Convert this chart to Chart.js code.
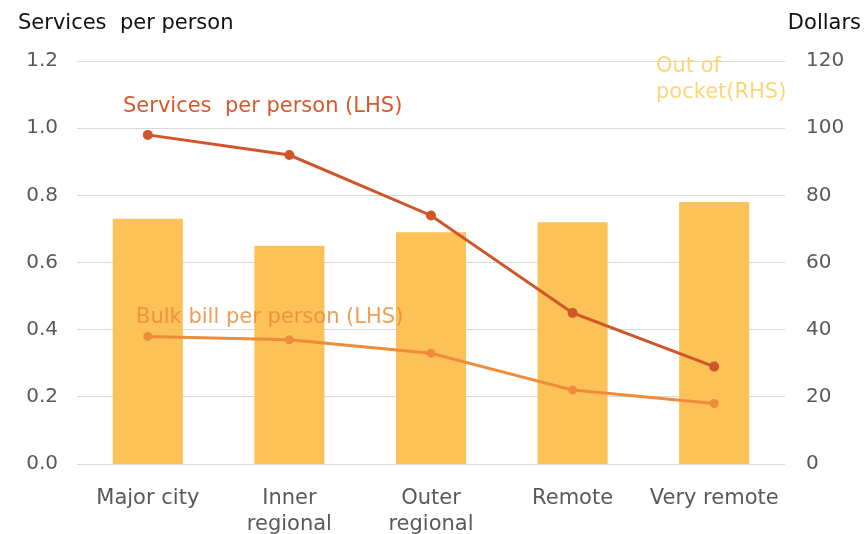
<!DOCTYPE html>
<html>
<head>
<meta charset="utf-8">
<script src="https://cdn.jsdelivr.net/npm/chart.js@4"></script>
<style>
  html, body { margin: 0; padding: 0; background: #fff; }
  #wrap { width: 865px; height: 534px; }
</style>
</head>
<body>
<div id="wrap"><canvas id="chart" width="865" height="534"></canvas></div>
<script>
const categories = [["Major city"], ["Inner", "regional"], ["Outer", "regional"], ["Remote"], ["Very remote"]];
const servicesPerPerson = [0.98, 0.92, 0.74, 0.45, 0.29];
const bulkBillPerPerson = [0.38, 0.37, 0.33, 0.22, 0.18];
const outOfPocket = [73, 65, 69, 72, 78];
const leftTicks = [0, 0.2, 0.4, 0.6, 0.8, 1.0, 1.2];
const rightTicks = [0, 20, 40, 60, 80, 100, 120];

const FONT = "'DejaVu Sans', sans-serif";
const TICK_COLOR = "#595959";

// axis titles and series captions written straight onto the canvas
const captions = {
  id: "captions",
  afterDatasetsDraw(chart) {
    const ctx = chart.ctx;
    ctx.save();
    ctx.textBaseline = "alphabetic";
    ctx.font = `21px ${FONT}`;

    ctx.fillStyle = "#111";
    ctx.textAlign = "left";
    ctx.fillText("Services  per person", 18, 29);
    ctx.textAlign = "right";
    ctx.fillText("Dollars", 861, 29);

    ctx.textAlign = "left";
    ctx.fillStyle = "#d5592c";
    ctx.fillText("Services  per person (LHS)", 123, 112);

    ctx.fillStyle = "rgba(236,140,58,0.85)";
    ctx.fillText("Bulk bill per person (LHS)", 136, 323);

    ctx.fillStyle = "#fdd67a";
    ctx.fillText("Out of", 656, 72);
    ctx.fillText("pocket(RHS)", 656, 98);
    ctx.restore();
  }
};

new Chart(document.getElementById("chart"), {
  data: {
    labels: categories,
    datasets: [
      {
        type: "line",
        label: "Services per person (LHS)",
        data: servicesPerPerson,
        yAxisID: "y",
        borderColor: "#d1552a",
        backgroundColor: "#d1552a",
        borderWidth: 3,
        pointRadius: 3.5,
        pointHoverRadius: 3.5,
        tension: 0,
        order: 0
      },
      {
        type: "line",
        label: "Bulk bill per person (LHS)",
        data: bulkBillPerPerson,
        yAxisID: "y",
        borderColor: "#ef8b3b",
        backgroundColor: "#ef8b3b",
        borderWidth: 3,
        pointRadius: 3,
        pointHoverRadius: 3,
        tension: 0,
        order: 0
      },
      {
        type: "bar",
        label: "Out of pocket(RHS)",
        data: outOfPocket,
        yAxisID: "y1",
        backgroundColor: "#fcc157",
        categoryPercentage: 1,
        barPercentage: 0.495,
        order: 1
      }
    ]
  },
  options: {
    responsive: false,
    animation: false,
    layout: { padding: { top: 61, left: 0, right: 0, bottom: 0 } },
    plugins: {
      legend: { display: false },
      tooltip: { enabled: false }
    },
    scales: {
      x: {
        offset: true,
        grid: { display: false },
        border: { display: false },
        ticks: {
          color: TICK_COLOR,
          font: { family: FONT, size: 21, lineHeight: 1.25 },
          padding: 13,
          maxRotation: 0,
          autoSkip: false
        },
        afterFit(scale) { scale.height = 70; }
      },
      y: {
        position: "left",
        min: 0,
        max: 1.2,
        afterBuildTicks(scale) { scale.ticks = leftTicks.map(v => ({ value: v })); },
        grid: { color: "#d9d9d9", lineWidth: 1, drawTicks: false },
        border: { display: false },
        ticks: {
          color: TICK_COLOR,
          font: { family: FONT, size: 20 },
          padding: 19,
          callback: v => v.toFixed(1)
        },
        afterFit(scale) { scale.width = 77; }
      },
      y1: {
        position: "right",
        min: 0,
        max: 120,
        afterBuildTicks(scale) { scale.ticks = rightTicks.map(v => ({ value: v })); },
        grid: { display: false, drawTicks: false },
        border: { display: false },
        ticks: {
          color: TICK_COLOR,
          font: { family: FONT, size: 20 },
          padding: 21
        },
        afterFit(scale) { scale.width = 80; }
      }
    }
  },
  plugins: [captions]
});
</script>
</body>
</html>
